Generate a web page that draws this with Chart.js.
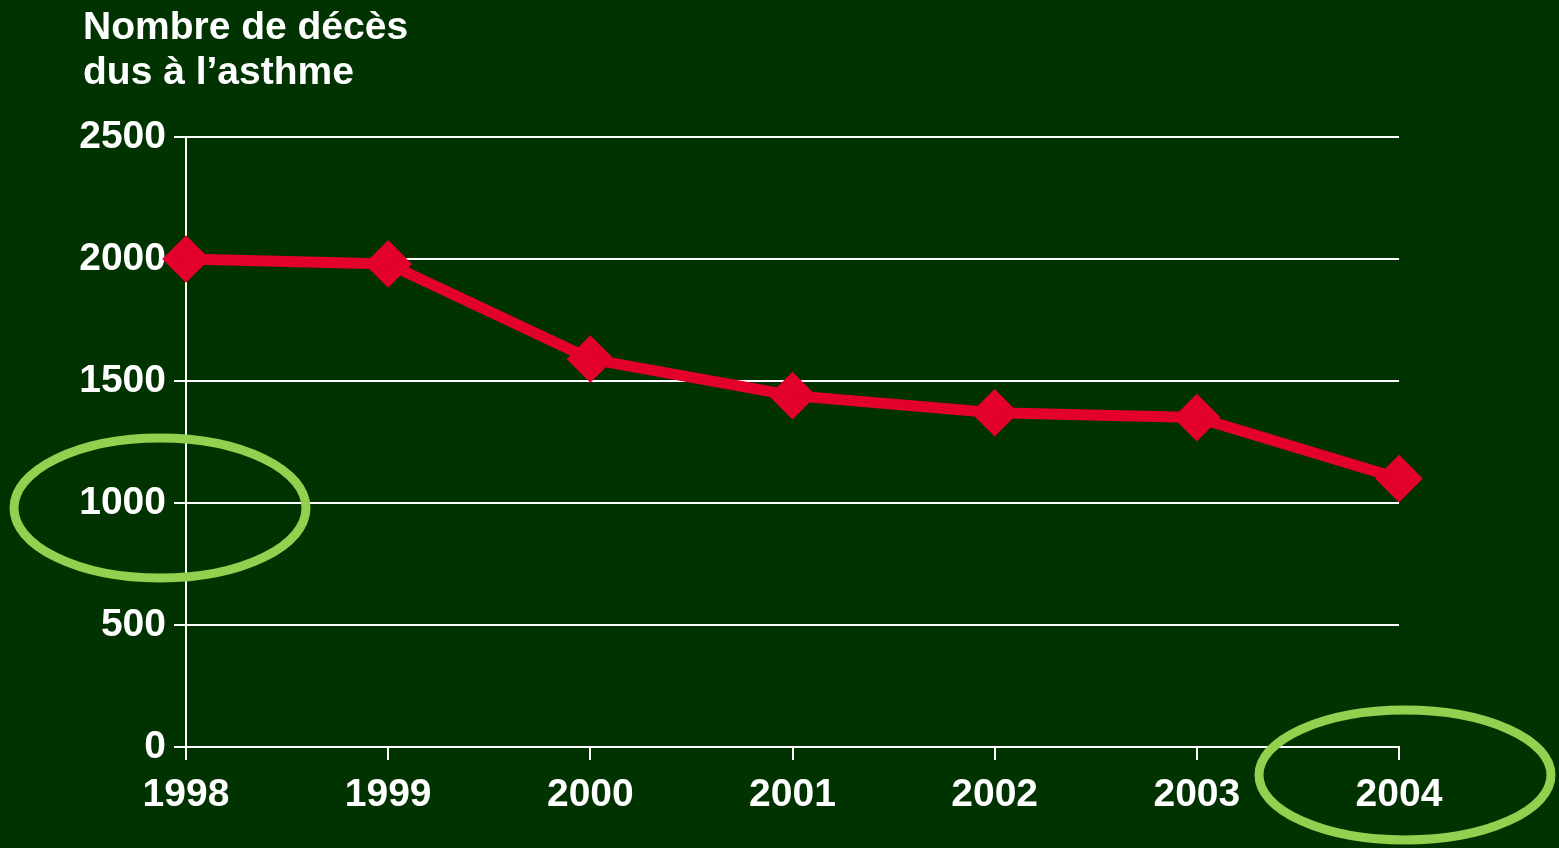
<!DOCTYPE html>
<html>
<head>
<meta charset="utf-8">
<script src="https://cdn.jsdelivr.net/npm/chart.js@4"></script>
<style>
  html, body { margin: 0; padding: 0; background: #003300; }
  #wrap { width: 1559px; height: 848px; }
</style>
</head>
<body>
<div id="wrap"><canvas id="linechart"></canvas></div>
<script>
const years = ['1998', '1999', '2000', '2001', '2002', '2003', '2004'];
const deaths = [2000, 1980, 1590, 1440, 1370, 1350, 1100];
const yTicks = [0, 500, 1000, 1500, 2000, 2500];
const titleLines = ['Nombre de décès', 'dus à l’asthme'];

const FONT = '"Liberation Sans", Arial, sans-serif';

// title text in the top left + the two green circles
const extras = {
  id: 'extras',
  afterDraw(chart) {
    const c = chart.ctx;
    const x = chart.scales.x, y = chart.scales.y;
    c.save();
    c.fillStyle = '#ffffff';
    c.font = 'bold 39px ' + FONT;
    c.textBaseline = 'alphabetic';
    c.fillText(titleLines[0], 83, 39);
    c.fillText(titleLines[1], 83, 84);

    c.strokeStyle = '#92d050';
    c.lineWidth = 9;
    c.beginPath();
    c.ellipse(chart.chartArea.left - 26, y.getPixelForValue(1000) + 5, 146, 70, 0, 0, Math.PI * 2);
    c.stroke();
    c.beginPath();
    c.ellipse(x.getPixelForValue(6) + 6, chart.chartArea.bottom + 28, 146, 65, 0, 0, Math.PI * 2);
    c.stroke();
    c.restore();
  }
};

new Chart(document.getElementById('linechart'), {
  type: 'line',
  data: {
    labels: years,
    datasets: [{
      data: deaths,
      borderColor: '#e3002b',
      backgroundColor: '#e3002b',
      borderWidth: 11,
      tension: 0,
      pointStyle: 'rectRot',
      pointRadius: 16,
      pointHoverRadius: 16
    }]
  },
  options: {
    responsive: true,
    maintainAspectRatio: false,
    animation: false,
    layout: { padding: { top: 137, right: 160, left: 0, bottom: 0 } },
    scales: {
      x: {
        offset: false,
        afterFit(s) { s.height = 101; },
        border: { color: '#ffffff', width: 2 },
        grid: { drawOnChartArea: false, drawTicks: true, tickLength: 13, color: '#ffffff', lineWidth: 2 },
        ticks: { color: '#ffffff', font: { family: FONT, size: 39, weight: 'bold' }, padding: 12, maxRotation: 0 }
      },
      y: {
        min: 0,
        max: 2500,
        afterFit(s) { s.width = 186; },
        afterBuildTicks(s) { s.ticks = yTicks.map(v => ({ value: v })); },
        border: { color: '#ffffff', width: 2 },
        grid: { color: '#ffffff', lineWidth: 2, tickLength: 12 },
        ticks: {
          color: '#ffffff',
          font: { family: FONT, size: 39, weight: 'bold' },
          padding: 8,
          callback: v => String(v)
        }
      }
    },
    plugins: {
      legend: { display: false },
      tooltip: { enabled: false }
    }
  },
  plugins: [extras]
});
</script>
</body>
</html>
